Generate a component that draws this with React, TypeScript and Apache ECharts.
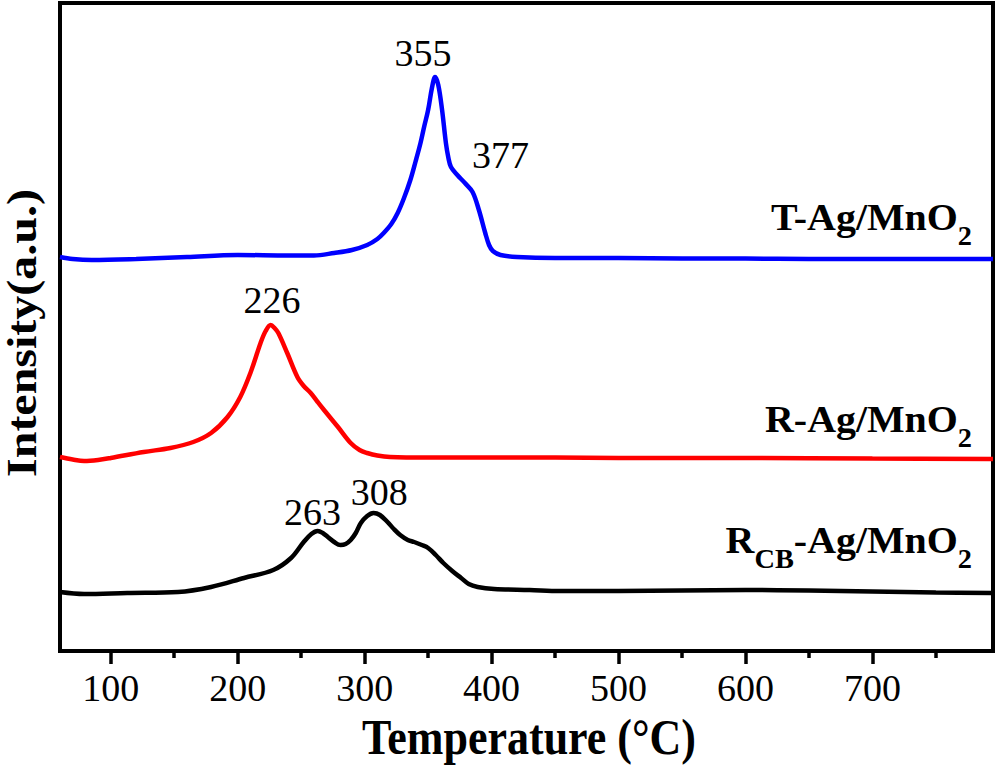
import React, { useEffect, useRef } from "react";
import * as echarts from "echarts";

const FONT = "Liberation Serif";

// T-Ag/MnO2 (blue)
const tAgTemp = [60, 70, 85, 120, 160, 200, 240, 260, 276, 290, 302, 310, 315, 321, 326, 331, 336, 340, 344, 347, 350, 353, 355.5, 358, 361, 364, 366, 368, 373, 379, 385, 390, 395, 398, 401, 407, 420, 450, 500, 550, 600, 650, 700, 750, 795];
const tAgInt = [394, 392, 391, 392, 394, 396, 395.5, 395.5, 398, 401, 406, 412, 418, 427, 438, 453, 471, 489, 508, 525, 541, 563, 574, 566, 541, 508, 493, 484, 476, 468, 459, 441, 418, 406, 400, 396, 394, 393, 393, 392.5, 392.5, 392, 392, 392, 392];

// R-Ag/MnO2 (red)
const rAgTemp = [60, 70, 79, 90, 100, 126, 147, 165, 179, 192, 202, 210, 218, 222, 226, 229, 232, 239, 247, 252, 257.5, 263, 268, 279, 289, 296, 302, 310, 320, 350, 400, 450, 500, 600, 700, 795];
const rAgInt = [194, 191.5, 190, 191, 193, 199, 203, 209, 218, 234, 254, 278, 308, 320, 326, 323, 318, 298, 274, 265, 258, 249, 241, 224, 208, 201, 198, 195.5, 194, 193.5, 193.5, 193.5, 193, 193, 192.5, 192];

// RCB-Ag/MnO2 (black)
const rcbTemp = [60, 79, 113, 153, 179, 205, 228, 242, 252, 258, 263, 267, 271, 276, 281, 285, 289, 293, 297, 302, 307, 312, 318, 323, 328, 334, 339, 345, 350, 356, 362, 369, 376, 382, 389, 402, 430, 454, 500, 550, 600, 650, 700, 750, 795];
const rcbInt = [59, 57, 58, 59, 64, 73, 81, 93, 109, 117, 120, 118, 114, 109, 106, 107, 111, 118, 128, 135, 138, 136, 129, 122, 116, 111, 109, 106, 103, 96, 88, 80, 73, 67, 64, 62, 61, 60, 60, 60.5, 61, 60.5, 59.5, 58.5, 58];

// peak annotations: label text and its [temperature, intensity] position
const tAgPeakNames = ["355", "377"];
const tAgPeakPos = [[346, 598], [407, 496]];
const rAgPeakNames = ["226"];
const rAgPeakPos = [[227, 351]];
const rcbPeakNames = ["263", "308"];
const rcbPeakPos = [[259, 139], [311.5, 159]];

const majorTicks = [100, 200, 300, 400, 500, 600, 700];
const minorTicks = [150, 250, 350, 450, 550, 650, 750];
const xMin = 60;
const xMax = 795;
const yMin = 0;
const yMax = 648;

const zip = (a: number[], b: number[]) => a.map((v, i) => [v, b[i]]);

const peaks = (names: string[], pos: number[][]) =>
  names.map((n, i) => ({ name: n, coord: pos[i] }));

function makeSeries(name: string, temps: number[], ints: number[], color: string, names: string[], pos: number[][]) {
  return {
    name,
    type: "line",
    data: zip(temps, ints),
    xAxisIndex: 0,
    yAxisIndex: 0,
    showSymbol: false,
    symbol: "none",
    smooth: 0.35,
    lineStyle: { color, width: 4.5 },
    silent: true,
    z: 3,
    markPoint: {
      symbol: "circle",
      symbolSize: 0,
      silent: true,
      itemStyle: { color: "transparent" },
      label: {
        show: true,
        position: "inside",
        formatter: "{b}",
        color: "#000",
        fontSize: 38,
        fontFamily: FONT,
      },
      data: peaks(names, pos),
    },
  };
}

const labelRich = {
  m: { fontSize: 38, lineHeight: 38, fontWeight: "bold", fontFamily: FONT, color: "#000", verticalAlign: "top" },
  s: { fontSize: 27, lineHeight: 27, fontWeight: "bold", fontFamily: FONT, color: "#000", verticalAlign: "top", padding: [24, 0, 0, 0] },
};

export default function App() {
  const ref = useRef<HTMLDivElement>(null);
  useEffect(() => {
    if (!ref.current) return;
    const chart = echarts.init(ref.current, undefined, { renderer: "svg" });
    const option: any = {
      animation: false,
      backgroundColor: "#fff",
      grid: {
        left: 60,
        right: 6,
        top: 3,
        bottom: 114,
        show: true,
        borderColor: "#000",
        borderWidth: 4,
        backgroundColor: "transparent",
      },
      xAxis: [
        {
          type: "value",
          min: xMin,
          max: xMax,
          position: "bottom",
          axisLine: { show: false },
          splitLine: { show: false },
          axisTick: {
            show: true,
            inside: false,
            length: 13,
            customValues: majorTicks,
            lineStyle: { color: "#000", width: 3.5 },
          },
          axisLabel: {
            customValues: majorTicks,
            fontSize: 38,
            color: "#000",
            fontFamily: FONT,
            margin: 18,
          },
        },
        {
          type: "value",
          min: xMin,
          max: xMax,
          position: "bottom",
          offset: 0,
          axisLine: { show: false },
          splitLine: { show: false },
          axisLabel: { show: false },
          axisTick: {
            show: true,
            inside: false,
            length: 7,
            customValues: minorTicks,
            lineStyle: { color: "#000", width: 3.5 },
          },
        },
      ],
      yAxis: { type: "value", min: yMin, max: yMax, show: false },
      series: [
        makeSeries("T-Ag/MnO2", tAgTemp, tAgInt, "#0000FF", tAgPeakNames, tAgPeakPos),
        makeSeries("R-Ag/MnO2", rAgTemp, rAgInt, "#FF0000", rAgPeakNames, rAgPeakPos),
        makeSeries("RCB-Ag/MnO2", rcbTemp, rcbInt, "#000000", rcbPeakNames, rcbPeakPos),
      ],
      graphic: [
        {
          type: "text",
          x: 529,
          y: 737,
          scaleX: 0.88,
          style: {
            text: "Temperature (°C)",
            fontSize: 50,
            fontWeight: "bold",
            fontFamily: FONT,
            fill: "#000",
            align: "center",
            verticalAlign: "middle",
          },
        },
        {
          type: "text",
          x: 22,
          y: 333,
          rotation: Math.PI / 2,
          scaleY: 0.88,
          style: {
            text: "Intensity(a.u.)",
            fontSize: 48,
            fontWeight: "bold",
            fontFamily: FONT,
            fill: "#000",
            align: "center",
            verticalAlign: "middle",
          },
        },
        {
          type: "text",
          x: 972,
          y: 198,
          scaleX: 1.05,
          style: {
            text: "{m|T-Ag/MnO}{s|2}",
            rich: labelRich,
            align: "right",
            verticalAlign: "top",
          },
        },
        {
          type: "text",
          x: 972,
          y: 400,
          scaleX: 1.05,
          style: {
            text: "{m|R-Ag/MnO}{s|2}",
            rich: labelRich,
            align: "right",
            verticalAlign: "top",
          },
        },
        {
          type: "text",
          x: 972,
          y: 521,
          scaleX: 1.05,
          style: {
            text: "{m|R}{s|CB}{m|-Ag/MnO}{s|2}",
            rich: labelRich,
            align: "right",
            verticalAlign: "top",
          },
        },
      ],
    };
    chart.setOption(option);
    return () => chart.dispose();
  }, []);
  return (
    <div style={{ fontFamily: FONT }}>
      <span style={{ position: "absolute", left: 0, top: 0, fontFamily: FONT, fontSize: 2, color: "#fff" }}>a</span>
      <span style={{ position: "absolute", left: 0, top: 0, fontFamily: FONT, fontWeight: "bold", fontSize: 2, color: "#fff" }}>a</span>
      <div
        ref={ref}
        style={{ position: "fixed", left: 0, top: 0, width: 999, height: 765, background: "#fff", fontFamily: FONT }}
      />
    </div>
  );
}
